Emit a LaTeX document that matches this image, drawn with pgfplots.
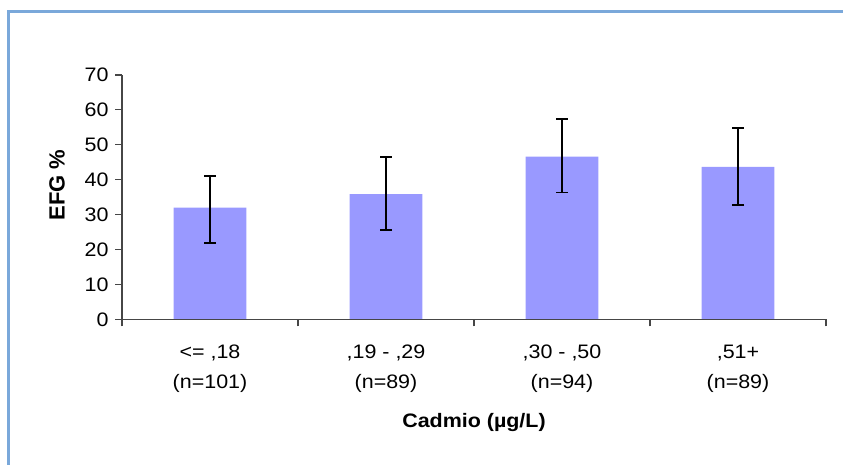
\documentclass[border=0pt]{standalone}
\usepackage{fontspec}
\setmainfont{Liberation Sans}[FakeStretch=1.1]
\newfontfamily\labelfont{Liberation Sans}
\usepackage{pgfplots}
\pgfplotsset{compat=1.18}
\usepackage{pgfplotstable}
\definecolor{barcol}{RGB}{153,153,255}
\definecolor{framecol}{RGB}{122,168,218}
\definecolor{axcol}{RGB}{70,70,70}
\pgfplotstableread{
x y ep em
0 32.0 9.05 10.05
1 35.9 10.7 10.4
2 46.6 10.7 10.3
3 43.7 11.2 10.95
}\datatable
\begin{document}
\begin{tikzpicture}[x=1pt,y=1pt]
\useasboundingbox (0,0) rectangle (843,464);
\draw[framecol, line width=3pt] (8,-2) -- (8,452.5) -- (845,452.5);
\begin{axis}[
 at={(122pt,144.7pt)}, anchor=south west, scale only axis,
 width=704pt, height=244.3pt,
 xmin=-0.5, xmax=3.5, ymin=0, ymax=70,
 axis lines=left,
 axis line style={-, axcol, line width=1.2pt},
 axis on top=true,
 tick align=outside,
 major tick length=7pt,
 xtick={-0.5,0.5,1.5,2.5,3.5}, xticklabels={},
 extra x ticks={0,1,2,3},
 extra x tick labels={{<= ,18\\(n=101)},{,19 - ,29\\(n=89)},{,30 - ,50\\(n=94)},{,51+\\(n=89)}},
 extra x tick style={major tick length=0pt},
 ytick={0,10,...,70},
 tick style={axcol, line width=1.2pt},
 every tick label/.append style={font=\fontsize{19.5}{30}\selectfont, black},
 xticklabel style={align=center, yshift=-22pt},
 yticklabel style={xshift=-3pt},
 /pgf/number format/assume math mode=true,
 xlabel={\bfseries Cadmio (µg/L)},
 xlabel style={at={(axis description cs:0.5,-0.4409)}, anchor=base, font=\fontsize{19.5}{23}\selectfont},
 ylabel={EFG \%},
 ylabel style={at={(axis description cs:-0.0923,0.5497)}, anchor=center, font=\labelfont\bfseries\fontsize{22}{26}\selectfont},
 clip=false,
]
\addplot[ybar, bar width=72.7pt, fill=barcol, draw=none,
 error bars/.cd, y dir=both, y explicit,
 error bar style={black, line width=1.7pt},
 error mark options={black, line width=1.7pt, mark size=6pt, rotate=90}]
 table[x=x,y=y,y error plus=ep,y error minus=em]{\datatable};
\end{axis}
\end{tikzpicture}
\end{document}
